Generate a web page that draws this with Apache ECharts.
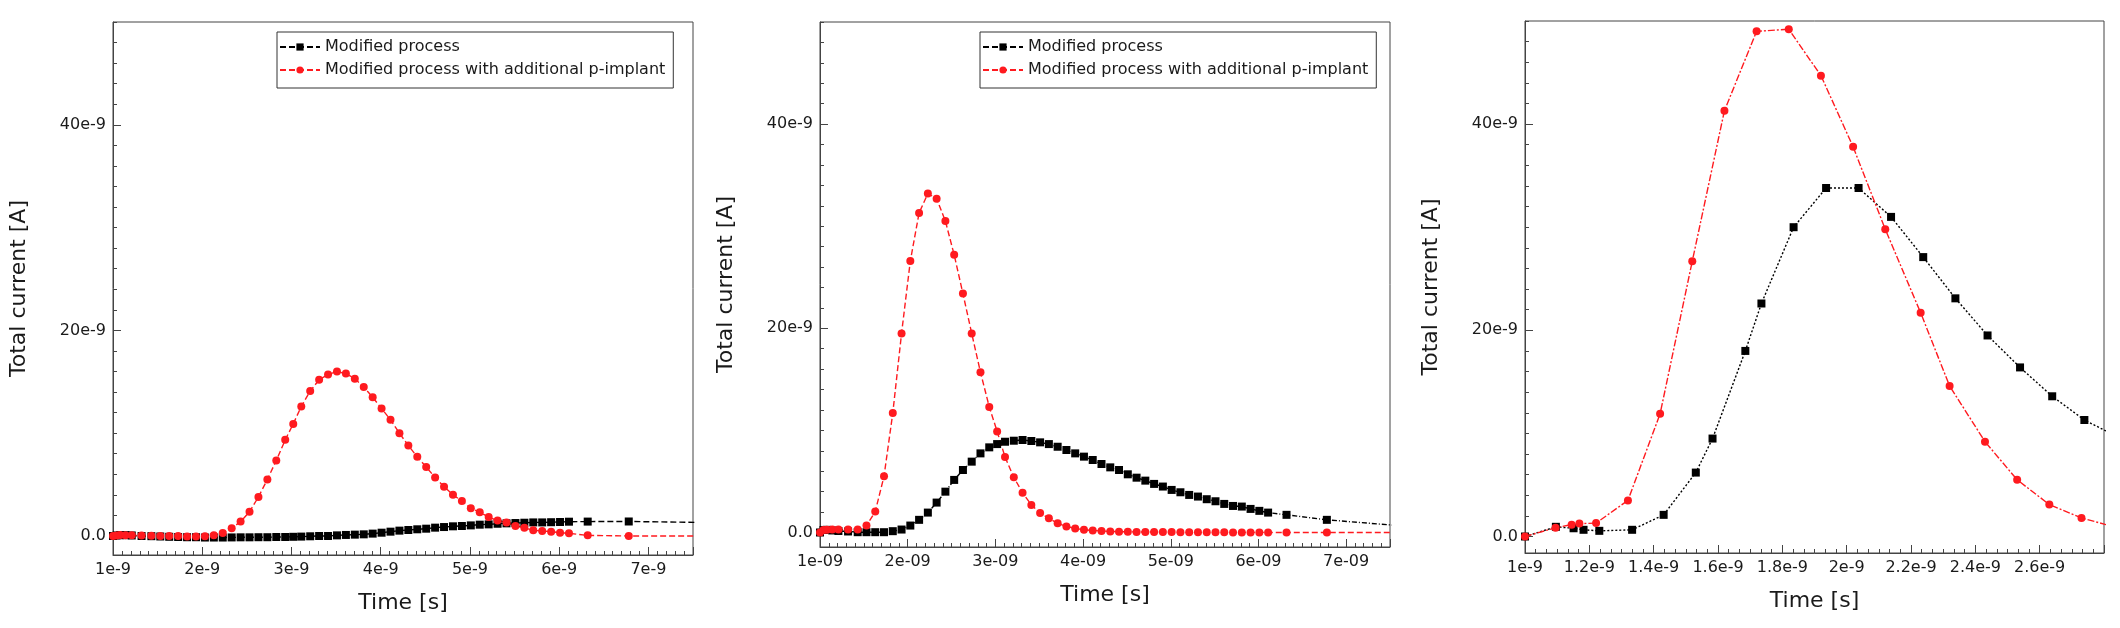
<!DOCTYPE html>
<html>
<head>
<meta charset="utf-8">
<title>Total current vs time</title>
<script src="https://cdn.jsdelivr.net/npm/echarts@6/dist/echarts.min.js"></script>
<style>
  html, body { margin: 0; padding: 0; background: #fff; }
  #main { width: 2120px; height: 628px; }
</style>
</head>
<body>
<div id="main"></div>
<script>
// time is in ns and current in nA, the axis labels carry the e-9
var seriesNames = ['Modified process', 'Modified process with additional p-implant'];

// panels 1 and 2 share one time grid
var timeAB = [1.00, 1.04, 1.08, 1.14, 1.21, 1.32, 1.43, 1.53, 1.63, 1.73, 1.83, 1.93, 2.03, 2.13, 2.23,
  2.33, 2.43, 2.53, 2.63, 2.73, 2.83, 2.93, 3.02, 3.11, 3.21, 3.31, 3.41, 3.51, 3.61, 3.71, 3.81, 3.91,
  4.01, 4.11, 4.21, 4.31, 4.41, 4.51, 4.61, 4.71, 4.81, 4.91, 5.01, 5.11, 5.21, 5.31, 5.41, 5.51, 5.61,
  5.71, 5.81, 5.91, 6.01, 6.11, 6.32, 6.78, 7.90];

var modA = [0.0, 0.05, 0.08, 0.08, 0.05, 0.0, -0.02, -0.05, -0.08, -0.1, -0.12, -0.12, -0.15, -0.15, -0.15,
  -0.14, -0.13, -0.13, -0.12, -0.12, -0.1, -0.1, -0.08, -0.06, -0.03, 0.0, 0.0, 0.06, 0.1, 0.13, 0.16, 0.23,
  0.32, 0.42, 0.52, 0.58, 0.65, 0.71, 0.81, 0.87, 0.94, 0.97, 1.03, 1.1, 1.13, 1.19, 1.23, 1.26, 1.29,
  1.32, 1.32, 1.34, 1.36, 1.39, 1.4, 1.41, 1.28];
var implA = [0.0, 0.05, 0.1, 0.08, 0.06, 0.05, 0.03, 0.0, 0.0, 0.0, -0.05, -0.05, -0.02, 0.08, 0.3,
  0.75, 1.4, 2.35, 3.8, 5.5, 7.35, 9.35, 10.9, 12.6, 14.1, 15.2, 15.7, 16.0, 15.8, 15.3, 14.5, 13.5,
  12.4, 11.3, 10.0, 8.8, 7.7, 6.7, 5.7, 4.8, 4.0, 3.4, 2.7, 2.3, 1.84, 1.5, 1.3, 0.97, 0.8,
  0.55, 0.48, 0.42, 0.32, 0.26, 0.06, 0.0, 0.0];

var modB = [0.0, 0.25, 0.26, 0.2, 0.15, 0.1, 0.03, 0.03, 0.03, 0.03, 0.13, 0.29, 0.68, 1.24, 1.95,
  2.93, 4.0, 5.15, 6.12, 6.94, 7.75, 8.34, 8.66, 8.89, 8.99, 9.06, 8.96, 8.83, 8.66, 8.4, 8.08, 7.75,
  7.43, 7.1, 6.71, 6.38, 6.12, 5.7, 5.37, 5.08, 4.76, 4.5, 4.17, 3.94, 3.68, 3.52, 3.26, 3.06, 2.8,
  2.6, 2.54, 2.31, 2.12, 1.95, 1.73, 1.24, 0.47];
var implB = [0.0, 0.25, 0.28, 0.3, 0.3, 0.3, 0.3, 0.68, 2.05, 5.5, 11.7, 19.5, 26.6, 31.3, 33.2,
  32.7, 30.5, 27.2, 23.4, 19.5, 15.7, 12.3, 9.9, 7.4, 5.4, 3.9, 2.7, 1.9, 1.4, 0.9, 0.6, 0.4,
  0.27, 0.2, 0.15, 0.1, 0.08, 0.07, 0.06, 0.05, 0.05, 0.04, 0.04, 0.03, 0.03, 0.02, 0.02, 0.02, 0.02,
  0.01, 0.01, 0.01, 0.01, 0.01, 0.0, 0.0, 0.0];

// panel 3 has its own time steps per series
var timeModC = [1.0, 1.096, 1.151, 1.182, 1.231, 1.333, 1.431, 1.531, 1.583, 1.685, 1.735, 1.835,
  1.936, 2.037, 2.138, 2.238, 2.338, 2.438, 2.539, 2.639, 2.739, 2.84];
var modC = [0.0, 0.94, 0.8, 0.65, 0.55, 0.65, 2.1, 6.2, 9.5, 18.0, 22.6, 30.0,
  33.8, 33.8, 31.0, 27.1, 23.1, 19.5, 16.4, 13.6, 11.3, 9.7];
var timeImplC = [1.0, 1.095, 1.145, 1.169, 1.221, 1.32, 1.42, 1.52, 1.62, 1.72, 1.82, 1.92,
  2.02, 2.12, 2.23, 2.32, 2.43, 2.53, 2.63, 2.73, 2.83];
var implC = [0.0, 0.85, 1.15, 1.25, 1.3, 3.5, 11.9, 26.7, 41.3, 49.0, 49.2, 44.7,
  37.8, 29.8, 21.7, 14.6, 9.2, 5.5, 3.1, 1.8, 0.95];

// tick labels
var xTicksAB = [1, 2, 3, 4, 5, 6, 7];
var xLabelsA = ['1e-9', '2e-9', '3e-9', '4e-9', '5e-9', '6e-9', '7e-9'];
var xLabelsB = ['1e-09', '2e-09', '3e-09', '4e-09', '5e-09', '6e-09', '7e-09'];
var xTicksC = [1, 1.2, 1.4, 1.6, 1.8, 2, 2.2, 2.4, 2.6];
var xLabelsC = ['1e-9', '1.2e-9', '1.4e-9', '1.6e-9', '1.8e-9', '2e-9', '2.2e-9', '2.4e-9', '2.6e-9'];
var yTicks = [0, 20, 40];
var yLabels = ['0.0', '20e-9', '40e-9'];

function steps(from, to, step) {
  var out = [];
  for (var v = from; v <= to + 1e-9; v += step) out.push(+v.toFixed(4));
  return out;
}
function pairs(xs, ys) {
  return xs.map(function (x, i) { return [x, ys[i]]; });
}
function labeler(ticks, labels) {
  return function (v) {
    for (var i = 0; i < ticks.length; i++) if (Math.abs(ticks[i] - v) < 1e-6) return labels[i];
    return '';
  };
}

var FONT = 'DejaVu Sans';
var INK = '#1a1a1a';
var FRAME = '#444';
var RED = '#ff1a1f';

var panels = [
  { left: 113, top: 22, width: 580, height: 533, xMax: 7.5, yMin: -1.85,
    xTicks: xTicksAB, xLabels: xLabelsA, xMinor: steps(1, 7.5, 0.1),
    black: pairs(timeAB, modA), red: pairs(timeAB, implA),
    blackDash: [6, 3], redDash: [6, 3] },
  { left: 820, top: 22, width: 570, height: 525, xMax: 7.5, yMin: -1.42,
    xTicks: xTicksAB, xLabels: xLabelsB, xMinor: steps(1, 7.5, 0.1),
    black: pairs(timeAB, modB), red: pairs(timeAB, implB),
    blackDash: [5, 2, 1, 2], redDash: [6, 3] },
  { left: 1525, top: 21, width: 579, height: 532, xMax: 2.8, yMin: -1.6,
    xTicks: xTicksC, xLabels: xLabelsC, xMinor: steps(1, 2.8, 0.2 / 6),
    black: pairs(timeModC, modC), red: pairs(timeImplC, implC),
    blackDash: [2, 2], redDash: [7, 2, 2, 2] }
];

var grids = [], xAxes = [], yAxes = [], series = [];
var yMinor = steps(0, 50, 2);

panels.forEach(function (p, g) {
  grids.push({ left: p.left, top: p.top, width: p.width, height: p.height,
    show: true, borderColor: FRAME, borderWidth: 1, backgroundColor: 'transparent' });

  xAxes.push({
    type: 'value', gridIndex: g, position: 'bottom', min: 1, max: p.xMax,
    name: 'Time [s]', nameLocation: 'middle', nameGap: 37,
    nameTextStyle: { fontFamily: FONT, fontSize: 22, color: INK },
    axisLine: { show: true, onZero: false, lineStyle: { color: FRAME, width: 1 } },
    axisTick: { show: true, inside: true, length: 8, customValues: p.xTicks.concat([p.xMax]), lineStyle: { color: FRAME } },
    axisLabel: { show: true, customValues: p.xTicks, margin: 7, formatter: labeler(p.xTicks, p.xLabels),
      fontFamily: FONT, fontSize: 16, color: INK },
    splitLine: { show: false }
  });
  xAxes.push({
    type: 'value', gridIndex: g, position: 'bottom', min: 1, max: p.xMax,
    axisLine: { show: false, onZero: false },
    axisTick: { show: true, inside: true, length: 4, customValues: p.xMinor, lineStyle: { color: FRAME } },
    axisLabel: { show: false }, splitLine: { show: false }
  });

  yAxes.push({
    type: 'value', gridIndex: g, position: 'left', min: p.yMin, max: 50,
    name: 'Total current [A]', nameLocation: 'middle', nameGap: 83,
    nameTextStyle: { fontFamily: FONT, fontSize: 22, color: INK },
    axisLine: { show: true, onZero: false, lineStyle: { color: FRAME, width: 1 } },
    axisTick: { show: true, inside: true, length: 8, customValues: yTicks, lineStyle: { color: FRAME } },
    axisLabel: { show: true, customValues: yTicks, margin: 7, formatter: labeler(yTicks, yLabels),
      fontFamily: FONT, fontSize: 16, color: INK },
    splitLine: { show: false }
  });
  yAxes.push({
    type: 'value', gridIndex: g, position: 'left', min: p.yMin, max: 50,
    axisLine: { show: false, onZero: false },
    axisTick: { show: true, inside: true, length: 4, customValues: yMinor, lineStyle: { color: FRAME } },
    axisLabel: { show: false }, splitLine: { show: false }
  });

  series.push({
    name: seriesNames[0], type: 'line', xAxisIndex: 2 * g, yAxisIndex: 2 * g,
    data: p.black, clip: true, symbol: 'rect', symbolSize: 8, showAllSymbol: true,
    lineStyle: { color: '#000', width: 1.4, type: p.blackDash },
    itemStyle: { color: '#000', borderWidth: 0 }, emphasis: { disabled: true }
  });
  series.push({
    name: seriesNames[1], type: 'line', xAxisIndex: 2 * g, yAxisIndex: 2 * g,
    data: p.red, clip: true, symbol: 'circle', symbolSize: 8, showAllSymbol: true,
    lineStyle: { color: RED, width: 1.4, type: p.redDash },
    itemStyle: { color: RED, borderWidth: 0 }, emphasis: { disabled: true }
  });
});

function legendAt(left, top) {
  return {
    left: left, top: top, orient: 'vertical', data: seriesNames,
    backgroundColor: '#fff', borderColor: '#333', borderWidth: 1,
    padding: [6, 8, 9, 2], itemGap: 5, itemWidth: 40, itemHeight: 9, itemTextGap: 7,
    selectedMode: false,
    textStyle: { fontFamily: FONT, fontSize: 16, color: INK, lineHeight: 18 }
  };
}

var chart = echarts.init(document.getElementById('main'), null, { renderer: 'canvas' });
chart.setOption({
  animation: false,
  backgroundColor: '#fff',
  grid: grids,
  xAxis: xAxes,
  yAxis: yAxes,
  legend: [legendAt(277, 32), legendAt(980, 32)],
  series: series
});
</script>
</body>
</html>
